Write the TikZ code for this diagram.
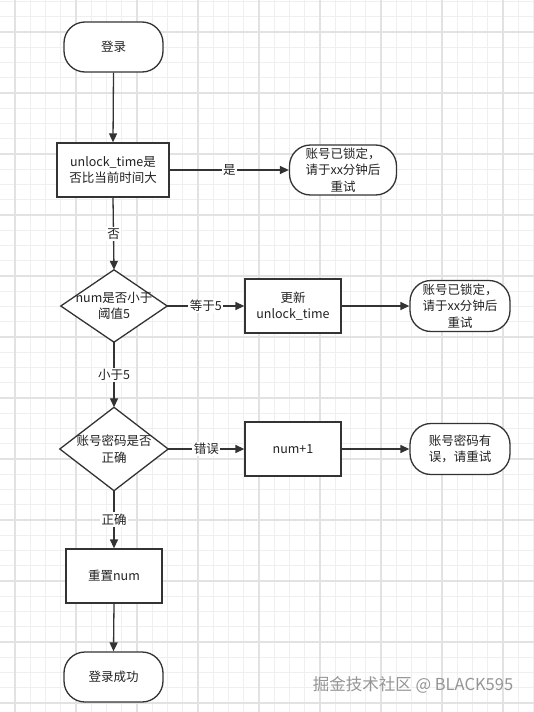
\documentclass[tikz,border=0pt]{standalone}
\usepackage{fontspec}
\setmainfont{Noto Sans CJK SC}
\usetikzlibrary{arrows.meta}
\definecolor{lc}{HTML}{333333}
\definecolor{tc}{HTML}{222222}
\definecolor{gminor}{HTML}{EFEFEF}
\definecolor{gmajor}{HTML}{E2E2E2}
\definecolor{wm}{HTML}{959595}
\newcommand{\fs}{\fontsize{12.5}{16.5}\selectfont}
\tikzset{
  term/.style={draw=lc, line width=1.3pt, rounded corners=21pt, minimum width=99pt, minimum height=50pt, align=center, fill=white, text=tc, font=\fs, inner sep=2pt},
  proc/.style={draw=lc, line width=1.3pt, minimum width=96pt, minimum height=54pt, align=center, fill=white, text=tc, font=\fs, inner sep=2pt},
  decis/.style={minimum width=106pt, minimum height=72pt, align=center, inner sep=0pt, text=tc, font=\fs},
  dshape/.style={draw=lc, line width=1.3pt, fill=white},
  flow/.style={draw=lc, line width=1.3pt, -{Triangle[length=9pt,width=8pt]}},
  elabel/.style={fill=white, inner sep=1.5pt, text=tc, font=\fs},
  gridminor/.style={draw=gminor, line width=0.9pt},
  gridmajor/.style={draw=gmajor, line width=1.6pt}
}
\begin{document}
\begin{tikzpicture}[x=1pt,y=-1pt]
\useasboundingbox (0,0) rectangle (534,712);
\fill[white] (0,0) rectangle (534,712);
% grid
\foreach \k in {-1,...,35} {
  \draw[gridminor] ({15+15.25*\k},0) -- ({15+15.25*\k},712);
}
\foreach \k in {-3,...,45} {
  \draw[gridminor] (0,{32+15.25*\k}) -- (534,{32+15.25*\k});
}
\foreach \k in {0,...,8} {
  \draw[gridmajor] ({15+61*\k},0) -- ({15+61*\k},712);
}
\foreach \k in {0,...,11} {
  \draw[gridmajor] (0,{32+61*\k}) -- (534,{32+61*\k});
}
% nodes
\node[term] (start) at (113.5,47) {登录};
\node[proc, minimum width=112pt] (chk) at (113,170) {unlock\_time是\\否比当前时间大};
\node[term, minimum width=107pt] (lock1) at (343,170) {账号已锁定，\\请于xx分钟后\\重试};
\node[decis] (d1) at (114,306) {};
\draw[dshape] (d1.north) -- (d1.east) -- (d1.south) -- (d1.west) -- cycle;
\node[text=tc, font=\fs, align=center] (d1t) at (d1.center) {num是否小于\\阈值5};
\node[proc] (upd) at (293,306) {更新\\unlock\_time};
\node[term, minimum width=100pt, minimum height=51pt] (lock2) at (460,306) {账号已锁定，\\请于xx分钟后\\重试};
\node[decis, minimum width=108pt, minimum height=83pt] (d2) at (114,449) {};
\draw[dshape] (d2.north) -- (d2.east) -- (d2.south) -- (d2.west) -- cycle;
\node[text=tc, font=\fs, align=center] (d2t) at (d2.center) {账号密码是否\\正确};
\node[proc] (inc) at (293,449) {num+1};
\node[term, minimum width=100pt, minimum height=51pt] (err) at (460,449) {账号密码有\\误，请重试};
\node[proc] (reset) at (114,576) {重置num};
\node[term] (ok) at (113.5,677) {登录成功};
% connectors
\draw[flow] (start.south) -- (chk.north);
\draw[flow] (chk.east) -- node[elabel] {是} (lock1.west);
\draw[flow] (chk.south) -- node[elabel] {否} (d1.north);
\draw[flow] (d1.east) -- node[elabel] {等于5} (upd.west);
\draw[flow] (upd.east) -- (lock2.west);
\draw[flow] (d1.south) -- node[elabel] {小于5} (d2.north);
\draw[flow] (d2.east) -- node[elabel] {错误} (inc.west);
\draw[flow] (inc.east) -- (err.west);
\draw[flow] (d2.south) -- node[elabel] {正确} (reset.north);
\draw[flow] (reset.south) -- (ok.north);
% watermark
\node[text=wm, font=\fontsize{16.5}{18}\selectfont] (wmark) at (413,685) {掘金技术社区 @ BLACK595};
\end{tikzpicture}
\end{document}
